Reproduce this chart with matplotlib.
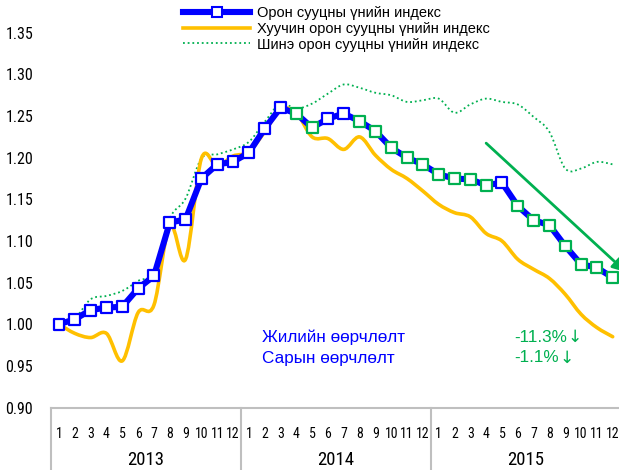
import matplotlib
matplotlib.use('Agg')
import matplotlib.pyplot as plt
import matplotlib.transforms as mtransforms
from matplotlib.path import Path
from matplotlib.patches import PathPatch
from matplotlib.lines import Line2D
from matplotlib import font_manager
import numpy as np

# ---------------- data ----------------
years = ['2013', '2014', '2015']
months = [str(m) for m in range(1, 13)]

total_index = [1.000, 1.006, 1.017, 1.020, 1.021, 1.043, 1.058, 1.122, 1.126, 1.175, 1.192, 1.195,
               1.206, 1.235, 1.260, 1.253, 1.236, 1.247, 1.253, 1.244, 1.232, 1.212, 1.200, 1.192,
               1.180, 1.175, 1.174, 1.167, 1.170, 1.142, 1.125, 1.119, 1.094, 1.072, 1.068, 1.056]
old_index = [1.000, 0.989, 0.984, 0.989, 0.956, 1.014, 1.023, 1.119, 1.078, 1.199, 1.190, 1.202,
             1.207, 1.231, 1.258, 1.254, 1.225, 1.223, 1.210, 1.225, 1.203, 1.186, 1.175, 1.160,
             1.144, 1.134, 1.129, 1.109, 1.100, 1.078, 1.066, 1.055, 1.036, 1.012, 0.996, 0.985]
new_index = [1.000, 1.007, 1.030, 1.034, 1.040, 1.052, 1.064, 1.127, 1.151, 1.199, 1.204, 1.210,
             1.219, 1.243, 1.265, 1.259, 1.265, 1.277, 1.288, 1.284, 1.278, 1.275, 1.267, 1.269,
             1.271, 1.254, 1.264, 1.271, 1.267, 1.264, 1.249, 1.231, 1.187, 1.187, 1.195, 1.192]

series_labels = ['Орон сууцны үнийн индекс',
                 'Хуучин орон сууцны үнийн индекс',
                 'Шинэ орон сууцны үнийн индекс']
change_labels = ['Жилийн өөрчлөлт', 'Сарын өөрчлөлт']
change_values = ['-11.3%', '-1.1%']
change_arrow = '↓'
y_ticks = [0.90, 0.95, 1.00, 1.05, 1.10, 1.15, 1.20, 1.25, 1.30, 1.35]
trend_arrow = [(27.0, 1.2175), (35.85, 1.0625)]

# ---------------- styles ----------------
BLUE = '#0000FF'
YELLOW = '#FFC000'
GREEN = '#00B050'
GREY = '#BFBFBF'


def pick_font(cands):
    for c in cands:
        try:
            font_manager.findfont(font_manager.FontProperties(family=c), fallback_to_default=False)
            return c
        except Exception:
            continue
    return 'DejaVu Sans'


NARROW = pick_font(['Liberation Sans Narrow', 'Roboto Condensed', 'DejaVu Sans'])
SANS = ['Liberation Sans', 'DejaVu Sans']
plt.rcParams['font.family'] = SANS

W, H = 619, 470
fig = plt.figure(figsize=(W / 100, H / 100), dpi=100)
left_px, right_px = 51.1, 620.6
bottom_px = 407.5
ax = fig.add_axes([left_px / W, 1 - bottom_px / H, (right_px - left_px) / W, bottom_px / H])

n = len(total_index)
x = np.arange(n)
ax.set_xlim(-0.5, n - 0.5)
ax.set_ylim(0.90, 1.0 + 324 / 832)


def smooth_path(xs, ys):
    pts = np.column_stack([xs, ys]).astype(float)
    verts = [pts[0]]
    codes = [Path.MOVETO]
    m = len(pts)
    for i in range(m - 1):
        p0 = pts[i - 1] if i > 0 else pts[i]
        p1 = pts[i]
        p2 = pts[i + 1]
        p3 = pts[i + 2] if i + 2 < m else pts[i + 1]
        verts += [p1 + (p2 - p0) / 6.0, p2 - (p3 - p1) / 6.0, p2]
        codes += [Path.CURVE4] * 3
    return Path(verts, codes)


# new housing index (dotted, smoothed)
ax.add_patch(PathPatch(smooth_path(x, new_index), fill=False, edgecolor=GREEN,
                       lw=1.3, linestyle=(0, (1, 1.6)), zorder=2))
# old housing index (smoothed)
ax.add_patch(PathPatch(smooth_path(x, old_index), fill=False, edgecolor=YELLOW,
                       lw=2.6, capstyle='round', joinstyle='round', zorder=3))
# total index
ax.plot(x, total_index, color=BLUE, lw=4.4, zorder=4, solid_joinstyle='round')
diffs = np.diff(np.array(total_index), prepend=total_index[0])
mcolors = [GREEN if d < 0 else BLUE for d in diffs]
ax.scatter(x, total_index, marker='s', s=62, facecolor='white', edgecolors=mcolors,
           linewidths=1.6, zorder=5)

# trend arrow
ax.annotate('', xy=trend_arrow[1], xytext=trend_arrow[0],
            arrowprops=dict(arrowstyle='-|>', color=GREEN, lw=2, mutation_scale=20,
                            shrinkA=0, shrinkB=0),
            annotation_clip=False, zorder=6)

# axes styling
for s in ['top', 'right', 'left']:
    ax.spines[s].set_visible(False)
ax.spines['bottom'].set_color(GREY)
ax.spines['bottom'].set_linewidth(1.5)
ax.set_yticks(y_ticks)
ax.set_yticklabels([f'{v:.2f}' for v in y_ticks], fontfamily=NARROW, fontsize=11.5)
ax.tick_params(axis='y', length=0, pad=13)
ax.set_xticks(x)
ax.set_xticklabels(months * len(years), fontfamily=NARROW, fontsize=10)
ax.tick_params(axis='x', length=0, pad=14)

trans = mtransforms.blended_transform_factory(ax.transData, ax.transAxes)
sep_bottom = -(H - bottom_px) / bottom_px
for k in range(len(years) + 1):
    xs = k * 12 - 0.5
    ax.plot([xs, xs], [0, sep_bottom], transform=trans, color=GREY, lw=1.5, clip_on=False)
for k, yr in enumerate(years):
    ax.text(k * 12 + 5.5, -(460 - bottom_px) / bottom_px, yr, transform=trans,
            ha='center', va='center', fontfamily=NARROW, fontsize=13.5)

# change texts
for i, (lab, val) in enumerate(zip(change_labels, change_values)):
    yy = 1 - (337 + 21 * i) / H
    fig.text(262 / W, yy, lab, color=BLUE, fontsize=12.3, va='center', ha='left')
    t = fig.text(514 / W, yy, val, color=GREEN, fontsize=12.3, va='center', ha='left')
    ax.annotate(change_arrow, xy=(1.0, 0.5), xycoords=t, xytext=(0.5, 0),
                textcoords='offset points', color=GREEN, fontsize=12.3,
                fontfamily='DejaVu Sans', va='center', ha='left', annotation_clip=False)

# legend
handles = [Line2D([], [], color=BLUE, lw=4.4, marker='s', markersize=6.5,
                  markerfacecolor='white', markeredgecolor=BLUE, markeredgewidth=1.5),
           Line2D([], [], color=YELLOW, lw=2.6),
           Line2D([], [], color=GREEN, lw=1.3, linestyle=(0, (1, 1.6)))]
fig.legend(handles, series_labels, loc='upper left',
           bbox_to_anchor=(183 / W, 1 - 6 / H), frameon=False, fontsize=10.5,
           handlelength=4.6, handletextpad=0.45, labelspacing=0.12,
           borderpad=0, borderaxespad=0, markerscale=1.0)

fig.savefig('out.png', dpi=100)
